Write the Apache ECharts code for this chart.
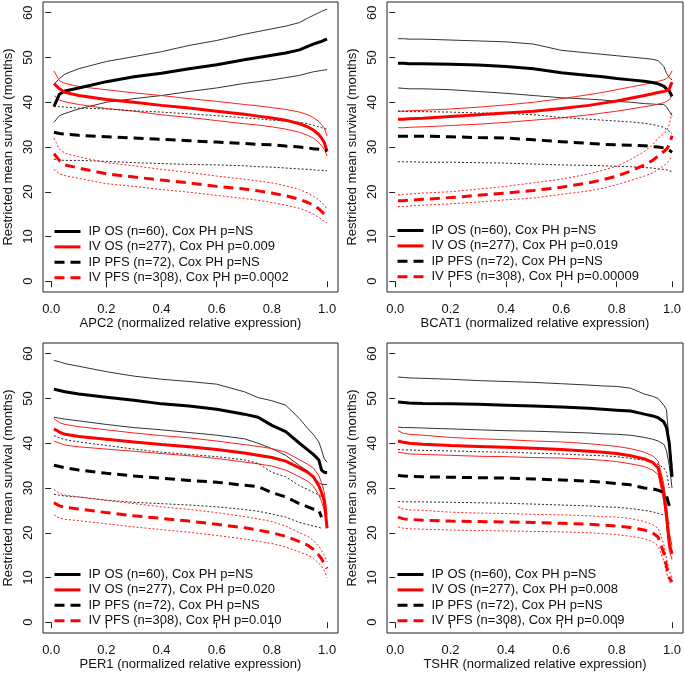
<!DOCTYPE html>
<html>
<head>
<meta charset="utf-8">
<script src="https://cdn.jsdelivr.net/npm/echarts@6/dist/echarts.min.js"></script>
<style>
html,body{margin:0;padding:0;background:#fff;}
#c{width:685px;height:676px;}
</style>
</head>
<body>
<div id="c"></div>
<script>
// shared x positions (normalized relative expression)
const xs = [0.01, 0.03, 0.05, 0.1, 0.2, 0.3, 0.4, 0.5, 0.6, 0.7, 0.75, 0.8, 0.85, 0.9, 0.93, 0.95, 0.97, 0.98, 0.99, 1.0];
const xTicks = [0, 0.2, 0.4, 0.6, 0.8, 1.0];
const yTicks = [0, 10, 20, 30, 40, 50, 60];

// APC2
const apc2_ipOS     = [39, 41.8, 42.5, 43.2, 44.6, 45.7, 46.5, 47.5, 48.4, 49.5, 50, 50.5, 51, 51.7, 52.5, 53, 53.4, 53.6, 53.9, 54.1];
const apc2_ipOS_hi  = [44, 45.3, 46.3, 47.5, 49.1, 50.2, 51.3, 52.7, 53.8, 55.2, 55.8, 56.4, 57, 57.8, 58.8, 59.4, 60, 60.3, 60.6, 60.8];
const apc2_ipOS_lo  = [35.5, 37, 37.5, 38.5, 40, 40.8, 41.5, 42.4, 43.2, 44.2, 44.6, 45, 45.5, 46, 46.5, 46.8, 47, 47.1, 47.2, 47.3];
const apc2_ivOS     = [44.2, 43, 42.2, 41.5, 40.6, 40, 39.3, 38.7, 38, 37.3, 36.9, 36.5, 36, 35.2, 34.5, 33.8, 32.8, 32, 31, 29];
const apc2_ivOS_hi  = [47, 44.8, 44.2, 43.5, 42.8, 42.1, 41.5, 40.8, 40.2, 39.5, 39.2, 38.8, 38.4, 37.8, 37.2, 36.6, 35.7, 35, 34.2, 32.5];
const apc2_ivOS_lo  = [41.5, 40.5, 40.1, 39.5, 38.6, 38, 37.2, 36.6, 35.9, 35.2, 34.9, 34.5, 34, 33.3, 32.6, 32, 31, 30.3, 29.5, 28];
const apc2_ipPFS    = [33.3, 33, 32.9, 32.6, 32.3, 32, 31.7, 31.4, 31.1, 30.8, 30.6, 30.5, 30.2, 30, 29.8, 29.6, 29.5, 29.4, 29.3, 29.3];
const apc2_ipPFS_hi = [39.2, 39, 38.9, 38.7, 38.5, 38.1, 37.8, 37.4, 37, 36.5, 36.3, 36, 35.8, 35.5, 35.2, 34.9, 34.5, 34.3, 34.1, 34];
const apc2_ipPFS_lo = [27.3, 27.1, 27, 27, 26.8, 26.5, 26.3, 26.1, 26, 25.8, 25.6, 25.5, 25.3, 25.1, 25, 24.9, 24.8, 24.8, 24.7, 24.7];
const apc2_ivPFS    = [28.5, 27, 26, 25.3, 24, 23.3, 22.6, 22, 21.2, 20.6, 20.2, 19.7, 19.1, 18.3, 17.6, 17, 16.2, 15.6, 15, 14.3];
const apc2_ivPFS_hi = [32, 29.5, 28.6, 27.8, 26.5, 25.8, 25, 24.3, 23.5, 22.8, 22.4, 22, 21.3, 20.5, 19.7, 19, 18.2, 17.6, 17, 16];
const apc2_ivPFS_lo = [25, 24, 23.6, 23, 21.8, 21.2, 20.5, 19.9, 19.2, 18.5, 18.1, 17.6, 17, 16.3, 15.6, 15, 14.3, 13.8, 13.4, 13];

// BCAT1
const bcat1_ipOS     = [48.7, 48.7, 48.6, 48.6, 48.5, 48.3, 48, 47.5, 46.6, 46, 45.7, 45.3, 45, 44.7, 44.4, 44.1, 43.6, 43, 42.5, 41.3];
const bcat1_ipOS_hi  = [54.2, 54.2, 54.1, 54.1, 53.9, 53.7, 53.5, 53, 51.6, 51, 50.7, 50.4, 50.1, 49.8, 49.6, 49.3, 48, 46.5, 45.5, 45];
const bcat1_ipOS_lo  = [43.2, 43.1, 43, 43, 42.8, 42.4, 42, 41.5, 41, 40.7, 40.5, 40.2, 40, 39.7, 39.6, 39.5, 39.5, 39, 38, 37];
const bcat1_ivOS     = [36.2, 36.2, 36.3, 36.4, 36.8, 37.2, 37.6, 38, 38.6, 39.3, 39.8, 40.3, 40.9, 41.5, 41.9, 42.2, 42.4, 42.6, 43, 44.5];
const bcat1_ivOS_hi  = [38, 38, 38.1, 38.2, 38.5, 38.9, 39.4, 40, 40.8, 41.7, 42.2, 42.8, 43.4, 44, 44.4, 44.7, 45, 45.3, 45.8, 47];
const bcat1_ivOS_lo  = [34.3, 34.3, 34.4, 34.5, 34.8, 35.1, 35.5, 36, 36.5, 37.2, 37.6, 38, 38.5, 39, 39.3, 39.6, 39.9, 40.2, 40.6, 41.5];
const bcat1_ipPFS    = [32.4, 32.4, 32.4, 32.4, 32.3, 32.1, 32, 31.6, 31.2, 30.8, 30.6, 30.5, 30.4, 30.3, 30.1, 30, 29.8, 29.6, 29.3, 28.8];
const bcat1_ipPFS_hi = [38, 38, 37.9, 37.9, 37.8, 37.6, 37.5, 37.2, 36.6, 36.2, 36, 35.8, 35.6, 35.3, 35, 34.7, 34.4, 34, 33.5, 33];
const bcat1_ipPFS_lo = [26.7, 26.7, 26.7, 26.6, 26.6, 26.5, 26.4, 26.2, 26, 25.9, 25.8, 25.7, 25.6, 25.4, 25.3, 25.1, 25, 24.9, 24.7, 24.5];
const bcat1_ivPFS    = [18, 18, 18.1, 18.3, 18.7, 19.2, 19.7, 20.3, 21, 22, 22.7, 23.5, 24.6, 26, 27, 28, 29, 29.5, 30.5, 32.5];
const bcat1_ivPFS_hi = [19.3, 19.4, 19.5, 19.7, 20, 20.6, 21.2, 22, 22.8, 24, 24.8, 25.7, 27.2, 29, 30.5, 32, 33, 33.5, 35, 38];
const bcat1_ivPFS_lo = [16.7, 16.7, 16.8, 17, 17.3, 17.7, 18.2, 18.6, 19.4, 20.2, 20.8, 21.6, 22.5, 23.5, 24.2, 25, 25.8, 26.3, 27, 28];

// PER1
const per1_ipOS     = [52.1, 51.8, 51.5, 51, 50.3, 49.6, 48.8, 48.3, 47.6, 46.5, 45.8, 44, 42.6, 40, 38.5, 37.5, 36.3, 34, 33.5, 33.4];
const per1_ipOS_hi  = [58.5, 58.2, 57.8, 57.2, 56, 55, 54.3, 53.8, 53.2, 51.5, 50.2, 49.5, 48.5, 45.5, 43.3, 42, 40.3, 38.5, 36.5, 35.8];
const per1_ipOS_lo  = [45.8, 45.6, 45.4, 45, 44.2, 43.5, 43, 42.4, 41.8, 41, 40, 38.8, 37.3, 35, 33.8, 32.5, 31.2, 30.8, 30.8, 30.8];
const per1_ivOS     = [43.2, 42.5, 42, 41.5, 40.9, 40.3, 39.7, 39.2, 38.6, 37.8, 37.3, 36.8, 36, 34.5, 33.5, 32.5, 30.5, 29, 27, 21];
const per1_ivOS_hi  = [45.5, 44.6, 44.2, 43.7, 43, 42.3, 41.7, 41.2, 40.5, 39.7, 39.3, 38.8, 38, 36.3, 35.3, 34.5, 32.8, 31.2, 29, 24];
const per1_ivOS_lo  = [40.5, 40, 39.6, 39.2, 38.7, 38.2, 37.7, 37.2, 36.6, 35.8, 35.4, 34.9, 34, 32.5, 31.5, 30.5, 28.5, 27, 25, 21];
const per1_ipPFS    = [35.1, 34.8, 34.5, 34, 33.3, 32.7, 32.2, 31.7, 31.3, 30.6, 30.3, 29, 28, 26.5, 25.8, 25.3, 25, 23.5, null, null];
const per1_ipPFS_hi = [41.7, 41.2, 40.8, 40.3, 39.5, 38.7, 38, 37.5, 37, 36.3, 35.5, 33.5, 32.5, 30.5, 29.7, 29, 28.5, 28, null, null];
const per1_ipPFS_lo = [28.6, 28.4, 28.2, 28, 27.3, 26.8, 26.5, 26.2, 25.8, 25.2, 24.8, 24.2, 23.5, 22.3, 21.8, 21.5, 21.2, 21, null, null];
const per1_ivPFS    = [26.7, 26, 25.7, 25.3, 24.5, 23.8, 23.2, 22.6, 21.9, 21.1, 20.6, 20, 19.2, 18, 17.2, 16.3, 15, 14.2, 13, 12];
const per1_ivPFS_hi = [29.7, 28.8, 28.4, 28, 27.2, 26.5, 25.8, 25.2, 24.5, 23.6, 23.1, 22.5, 21.5, 20, 19.2, 18.3, 17, 16, 15, 13.5];
const per1_ivPFS_lo = [24, 23.3, 23, 22.7, 22, 21.3, 20.7, 20.1, 19.4, 18.6, 18.1, 17.6, 16.8, 15.7, 15, 14.3, 13.2, 12.5, 11.5, 10];

// TSHR
const tshr_ipOS     = [49.2, 49.1, 49, 48.9, 48.8, 48.7, 48.5, 48.3, 48.1, 47.8, 47.6, 47.4, 47.2, 46.5, 46.1, 45.7, 44.8, 43.5, 40, 32.5];
const tshr_ipOS_hi  = [54.8, 54.7, 54.6, 54.5, 54.3, 54, 53.8, 53.6, 53.3, 53, 52.8, 52.7, 52.3, 51, 50.5, 50, 48.5, 47.5, 40, 35];
const tshr_ipOS_lo  = [43.6, 43.5, 43.5, 43.4, 43.2, 43, 42.8, 42.7, 42.5, 42.3, 42.1, 42, 41.8, 41.3, 40.9, 40.5, 39.8, 38.3, 35, 30];
const tshr_ivOS     = [40.5, 40.2, 40, 39.8, 39.5, 39.3, 39.1, 38.9, 38.6, 38.2, 38, 37.7, 37.2, 36.5, 35.7, 34.5, 29, 24, 17.5, 15.3];
const tshr_ivOS_hi  = [42.8, 42.2, 42, 41.8, 41.3, 41, 40.8, 40.5, 40.3, 39.9, 39.6, 39.3, 38.8, 38, 37.2, 36, 31, 26, 20, 17];
const tshr_ivOS_lo  = [38, 37.8, 37.6, 37.5, 37.3, 37.1, 37, 36.8, 36.7, 36.4, 36.2, 35.9, 35.4, 34.8, 34, 33, 27, 22, 16, 14];
const tshr_ipPFS    = [32.8, 32.7, 32.6, 32.5, 32.4, 32.3, 32.2, 32, 31.8, 31.5, 31.3, 31, 30.7, 30, 29.8, 29.5, 29, 28.3, 26, null];
const tshr_ipPFS_hi = [38.6, 38.5, 38.5, 38.4, 38.3, 38.1, 38, 37.8, 37.6, 37.3, 37.2, 37, 36.6, 36.2, 35.8, 35.3, 34.5, 33.5, 30, null];
const tshr_ipPFS_lo = [27, 26.9, 26.9, 26.9, 26.8, 26.7, 26.6, 26.4, 26.2, 26, 25.8, 25.7, 25.4, 25, 24.7, 24.3, 24, 23.5, 22, null];
const tshr_ivPFS    = [23.5, 23.1, 23, 22.8, 22.6, 22.5, 22.4, 22.3, 22.1, 21.9, 21.7, 21.5, 21.2, 20.6, 20, 19, 15.5, 12.5, 10, 9];
const tshr_ivPFS_hi = [25.8, 25.3, 25.1, 25, 24.6, 24.4, 24.3, 24.1, 24, 23.8, 23.6, 23.5, 23.2, 22.5, 21.8, 21, 17.5, 14.3, 11.5, 10];
const tshr_ivPFS_lo = [21.3, 21, 20.9, 20.8, 20.6, 20.5, 20.4, 20.3, 20.2, 20, 19.8, 19.6, 19.2, 18.7, 18, 17, 13.8, 11, 9, 8.5];

const genes = ['APC2', 'BCAT1', 'PER1', 'TSHR'];
const pIVOS = ['0.009', '0.019', '0.020', '0.008'];
const pIVPFS = ['0.0002', '0.00009', '0.010', '0.009'];

const panelData = [
  {ipOS: apc2_ipOS, ipOS_hi: apc2_ipOS_hi, ipOS_lo: apc2_ipOS_lo, ivOS: apc2_ivOS, ivOS_hi: apc2_ivOS_hi, ivOS_lo: apc2_ivOS_lo,
   ipPFS: apc2_ipPFS, ipPFS_hi: apc2_ipPFS_hi, ipPFS_lo: apc2_ipPFS_lo, ivPFS: apc2_ivPFS, ivPFS_hi: apc2_ivPFS_hi, ivPFS_lo: apc2_ivPFS_lo},
  {ipOS: bcat1_ipOS, ipOS_hi: bcat1_ipOS_hi, ipOS_lo: bcat1_ipOS_lo, ivOS: bcat1_ivOS, ivOS_hi: bcat1_ivOS_hi, ivOS_lo: bcat1_ivOS_lo,
   ipPFS: bcat1_ipPFS, ipPFS_hi: bcat1_ipPFS_hi, ipPFS_lo: bcat1_ipPFS_lo, ivPFS: bcat1_ivPFS, ivPFS_hi: bcat1_ivPFS_hi, ivPFS_lo: bcat1_ivPFS_lo},
  {ipOS: per1_ipOS, ipOS_hi: per1_ipOS_hi, ipOS_lo: per1_ipOS_lo, ivOS: per1_ivOS, ivOS_hi: per1_ivOS_hi, ivOS_lo: per1_ivOS_lo,
   ipPFS: per1_ipPFS, ipPFS_hi: per1_ipPFS_hi, ipPFS_lo: per1_ipPFS_lo, ivPFS: per1_ivPFS, ivPFS_hi: per1_ivPFS_hi, ivPFS_lo: per1_ivPFS_lo},
  {ipOS: tshr_ipOS, ipOS_hi: tshr_ipOS_hi, ipOS_lo: tshr_ipOS_lo, ivOS: tshr_ivOS, ivOS_hi: tshr_ivOS_hi, ivOS_lo: tshr_ivOS_lo,
   ipPFS: tshr_ipPFS, ipPFS_hi: tshr_ipPFS_hi, ipPFS_lo: tshr_ipPFS_lo, ivPFS: tshr_ivPFS, ivPFS_hi: tshr_ivPFS_hi, ivPFS_lo: tshr_ivPFS_lo}
];

// layout
const FONT = '"Liberation Sans", Arial, sans-serif';
const TXT = '#111';
const gridBoxes = [
  {left: 43, top: 2, width: 295, height: 290},
  {left: 387, top: 2, width: 296, height: 290},
  {left: 43, top: 343, width: 295, height: 290},
  {left: 387, top: 343, width: 296, height: 290}
];
const legendPos = [
  {left: 53, top: 225},
  {left: 396, top: 224},
  {left: 53, top: 568},
  {left: 396, top: 568}
];

function pairs(arr) {
  const out = [];
  for (let i = 0; i < xs.length; i++) if (arr[i] != null) out.push([xs[i], arr[i]]);
  return out;
}

const option = {
  animation: false,
  backgroundColor: '#fff',
  textStyle: {fontFamily: FONT},
  grid: [], xAxis: [], yAxis: [], series: [], legend: []
};

const RED = '#ff0000', BLK = '#000000';
const thin = 1, thick = 3;

for (let g = 0; g < 4; g++) {
  const b = gridBoxes[g];
  option.grid.push(Object.assign({show: true, borderColor: '#222', borderWidth: 1, backgroundColor: 'transparent'}, b));
  option.xAxis.push({
    type: 'value', gridIndex: g, min: -0.0296, max: 1.0396,
    name: genes[g] + ' (normalized relative expression)',
    nameLocation: 'middle', nameGap: 24,
    nameTextStyle: {fontSize: 13, color: TXT, fontFamily: FONT},
    axisLine: {show: false},
    splitLine: {show: false},
    axisTick: {show: true, inside: false, length: 6, customValues: xTicks, lineStyle: {color: '#222', width: 1}},
    axisLabel: {show: true, customValues: xTicks, margin: 11, fontSize: 13, color: TXT, fontFamily: FONT,
      formatter: v => Number(v).toFixed(1)}
  });
  option.yAxis.push({
    type: 'value', gridIndex: g, min: -2.4, max: 62.4,
    name: 'Restricted mean survival (months)',
    nameLocation: 'middle', nameGap: 28,
    nameTextStyle: {fontSize: 13, color: TXT, fontFamily: FONT},
    axisLine: {show: false},
    splitLine: {show: false},
    axisTick: {show: true, inside: false, length: 6, customValues: yTicks, lineStyle: {color: '#222', width: 1}},
    axisLabel: {show: true, customValues: yTicks, margin: 8, rotate: 90, fontSize: 13, color: TXT, fontFamily: FONT,
      formatter: v => String(v)}
  });

  const d = panelData[g];
  const names = [
    'IP OS (n=60), Cox PH p=NS',
    'IV OS (n=277), Cox PH p=' + pIVOS[g],
    'IP PFS (n=72), Cox PH p=NS',
    'IV PFS (n=308), Cox PH p=' + pIVPFS[g]
  ];
  const groups = [
    {key: 'ipOS', color: BLK, mainType: 'solid', ciType: 'solid', ciColor: '#333'},
    {key: 'ivOS', color: RED, mainType: 'solid', ciType: 'solid', ciColor: '#ff2020'},
    {key: 'ipPFS', color: BLK, mainType: [10, 6], ciType: [2, 2], ciColor: '#222'},
    {key: 'ivPFS', color: RED, mainType: [10, 6], ciType: [2, 2], ciColor: '#ff2020'}
  ];
  // CI lines first
  groups.forEach((gr, k) => {
    ['_hi', '_lo'].forEach(sfx => {
      option.series.push({
        type: 'line', name: genes[g] + ' ' + gr.key + sfx, xAxisIndex: g, yAxisIndex: g,
        data: pairs(d[gr.key + sfx]), symbol: 'none', showSymbol: false, silent: true,
        lineStyle: {color: gr.ciColor, width: thin, type: gr.ciType}, z: 2
      });
    });
  });
  // main lines
  groups.forEach((gr, k) => {
    option.series.push({
      type: 'line', name: names[k], xAxisIndex: g, yAxisIndex: g,
      data: pairs(d[gr.key]), symbol: 'none', showSymbol: false, silent: true,
      lineStyle: {color: gr.color, width: thick, type: gr.mainType, cap: 'butt'},
      itemStyle: {color: gr.color}, z: 3
    });
  });
  option.legend.push({
    orient: 'vertical', left: legendPos[g].left, top: legendPos[g].top, padding: 0,
    itemWidth: 26, itemHeight: 14, itemGap: 2.4, selectedMode: false,
    itemStyle: {opacity: 0},
    lineStyle: {width: 3},
    data: names,
    textStyle: {fontSize: 13, color: TXT, fontFamily: FONT, padding: [0, 0, 0, 3]}
  });
}

const chart = echarts.init(document.getElementById('c'), null, {renderer: 'canvas'});
chart.setOption(option);
</script>
</body>
</html>
